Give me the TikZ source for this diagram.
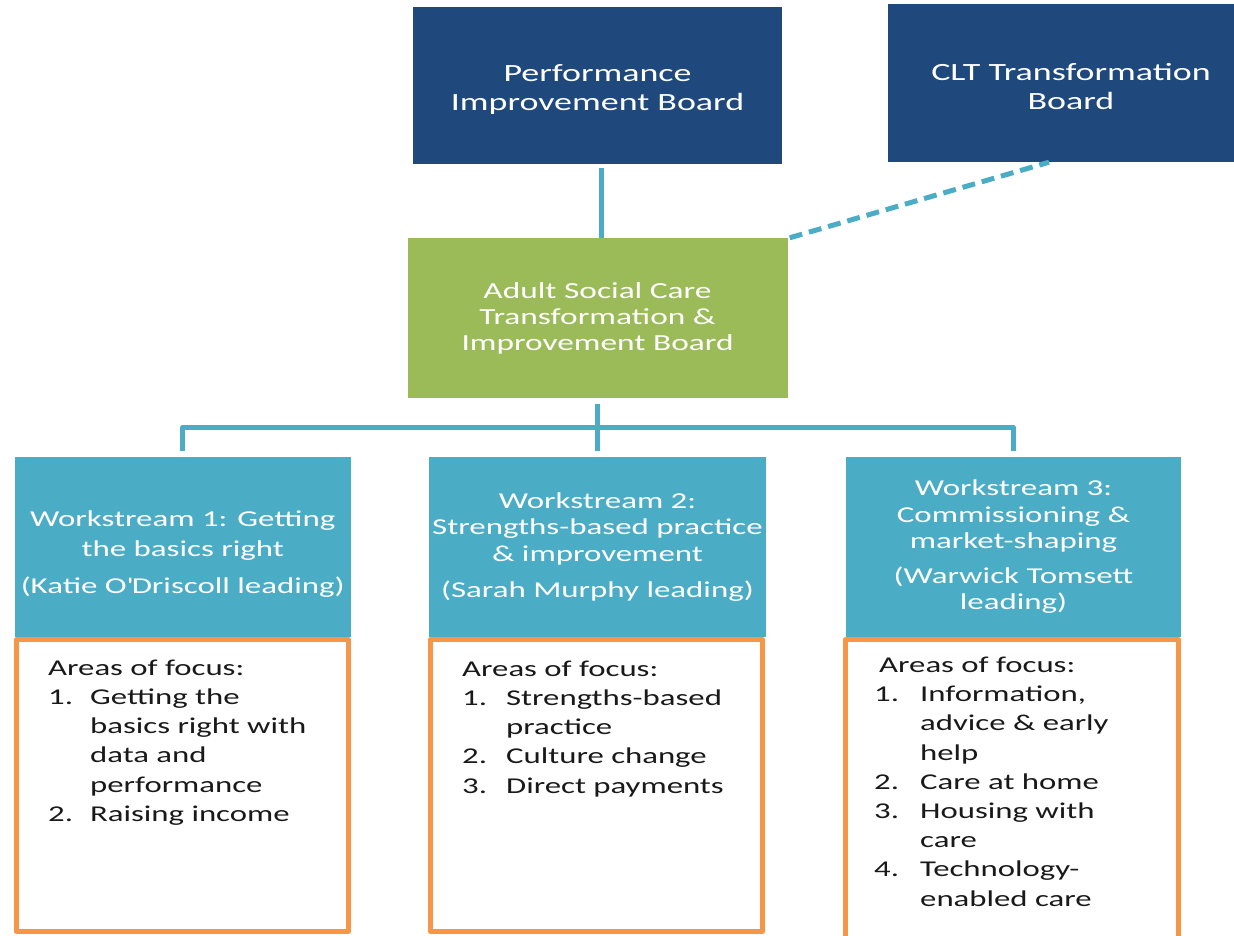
\documentclass[tikz,border=0pt]{standalone}
\usepackage{fontspec}
\setmainfont{Carlito}[FakeStretch=1.45]
\usepackage{tikz}
\usetikzlibrary{positioning}

\begin{document}
\begin{tikzpicture}
		[x=1pt,y=1pt,line join=round,
		%Styles
		board/.style={rectangle,inner sep=0pt,fill=boardblue,text=white,align=center,font=\fontsize{24.8}{29}\selectfont},
		care board/.style={rectangle,inner sep=0pt,fill=caregreen,text=white,align=center,font=\fontsize{23}{26}\selectfont},
		stream/.style={rectangle,inner sep=0pt,fill=streamteal,text=white,align=center,font=\fontsize{22.7}{26.5}\selectfont},
		focus box/.style={rectangle,inner sep=0pt,draw=focusorange,line width=5pt,fill=white},
		focus text/.style={inner sep=0pt,text=black!90,font=\fontsize{22.6}{29.2}\selectfont},
		link/.style={draw=streamteal,line width=5pt},
		dashed link/.style={link,dash pattern=on 13pt off 7pt}
		]
		
		%Colors
		\definecolor{boardblue}{RGB}{31,73,125}
		\definecolor{caregreen}{RGB}{155,187,89}
		\definecolor{streamteal}{RGB}{75,172,198}
		\definecolor{focusorange}{RGB}{247,150,70}
		
		\useasboundingbox (0,0) rectangle (1234,-936);
		
		%The graphic
		
		% boards
		\node[board,minimum width=369pt,minimum height=157pt] (pib) at (597.5,-85.5) {\rule{0pt}{24.6pt}Performance\\Improvement Board};
		\node[board,minimum width=366pt,minimum height=158pt] (clt) at (1071,-83) {\rule{0pt}{23.6pt}CLT Transformation\\Board};
		\node[care board,minimum width=380pt,minimum height=160pt] (asc) at (597.5,-318) {Adult Social Care\\Transformation \&\\Improvement Board};
		
		% workstreams
		\node[stream,minimum width=336.5pt,minimum height=180pt] (ws1) at (182.75,-547) {\rule{0pt}{29pt}Workstream 1: Getting\\[4pt]the basics right\\[10pt](Katie O\textquotesingle Driscoll leading)};
		\node[stream,minimum width=337pt,minimum height=180pt] (ws2) at (597.5,-547) {Workstream 2:\\Strengths-based practice\\\& improvement\\[10pt](Sarah Murphy leading)};
		\node[stream,minimum width=335pt,minimum height=180pt] (ws3) at (1013.5,-547) {Workstream 3:\\Commissioning \&\\market-shaping\\[8pt](Warwick Tomsett\\leading)};
		
		% areas of focus
		\node[focus box,minimum width=332pt,minimum height=292pt] (o1) at (182.5,-785.5) {};
		\node[focus box,minimum width=332pt,minimum height=292pt] (o2) at (596.5,-785.5) {};
		\node[focus box,minimum width=333pt,minimum height=310pt] (o3) at (1012,-794.75) {};
		
		\node[focus text,below right=17.6pt and 34pt of o1.north west] (f1) {\begin{tabular}{@{}p{42pt}@{}l@{}}
			\multicolumn{2}{@{}l@{}}{Areas of focus:}\\
			1. & Getting the\\
			 & basics right with\\
			 & data and\\
			 & performance\\
			2. & Raising income
		\end{tabular}};
		\node[focus text,below right=18.6pt and 34pt of o2.north west] (f2) {\begin{tabular}{@{}p{44pt}@{}l@{}}
			\multicolumn{2}{@{}l@{}}{Areas of focus:}\\
			1. & Strengths-based\\
			 & practice\\
			2. & Culture change\\
			3. & Direct payments
		\end{tabular}};
		\node[focus text,below right=14.6pt and 31pt of o3.north west] (f3) {\begin{tabular}{@{}p{46pt}@{}l@{}}
			\multicolumn{2}{@{}l@{}}{\hspace{5pt}Areas of focus:}\\
			1. & Information,\\
			 & advice \& early\\
			 & help\\
			2. & Care at home\\
			3. & Housing with\\
			 & care\\
			4. & Technology-\\
			 & enabled care
		\end{tabular}};
		
		% connectors
		\coordinate (clt link) at ([xshift=-22pt]clt.south);
		\coordinate (bus) at ([yshift=-29.5pt]asc.south);
		\draw[link,shorten <=4pt] ([xshift=4pt]pib.south) -- ([xshift=4pt]pib.south |- asc.north);
		\draw[dashed link] ([xshift=2pt]asc.north east) -- (clt link);
		\draw[link,shorten <=6pt,shorten >=6pt] (asc.south) -- (ws2.north);
		\draw[link,shorten <=6pt,shorten >=6pt] (ws1.north) |- (bus) -| (ws3.north);
	\end{tikzpicture}
\end{document}
